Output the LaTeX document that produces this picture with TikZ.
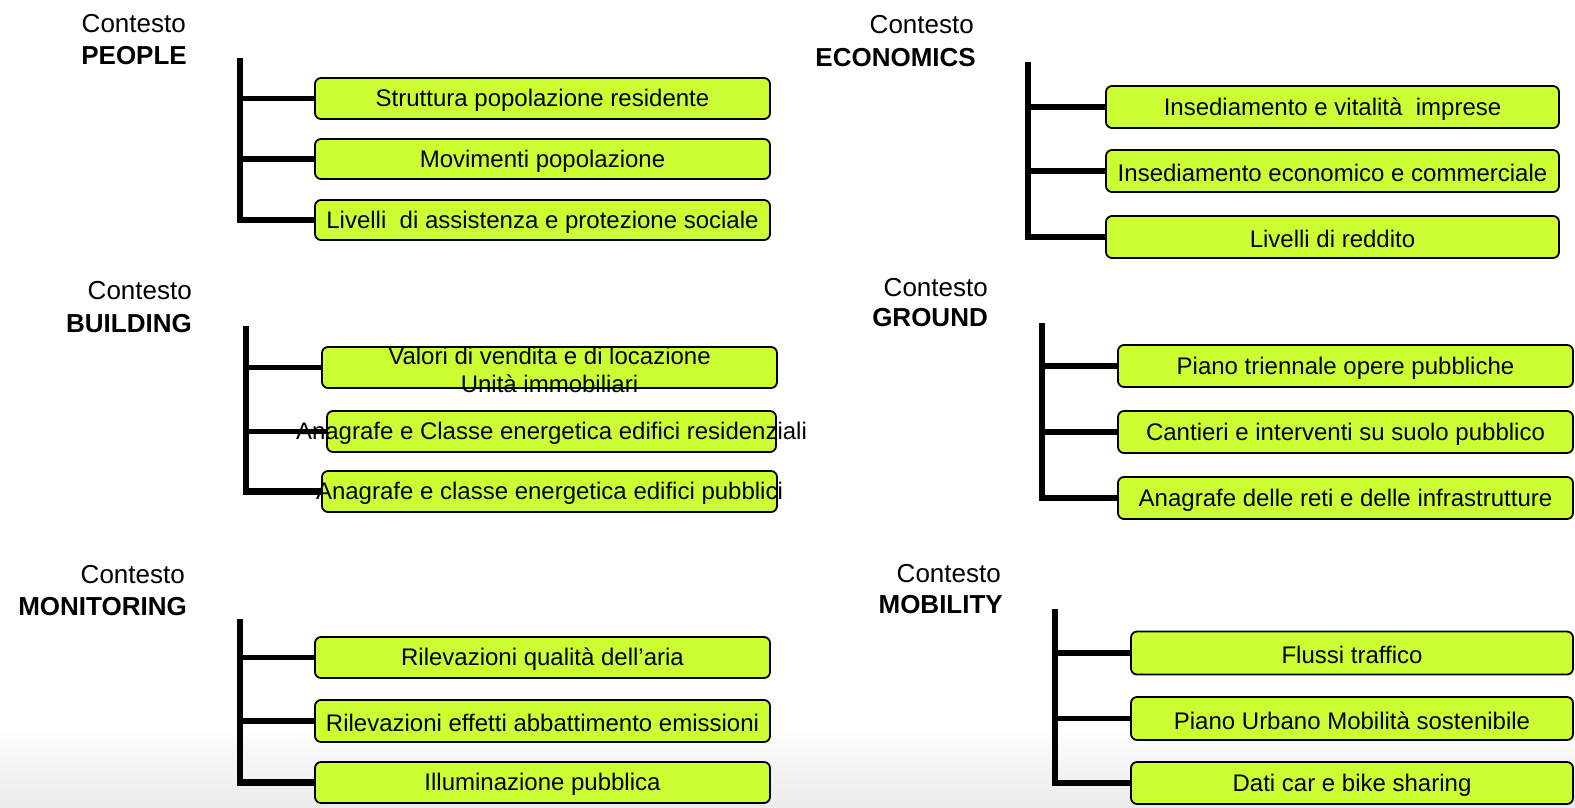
\documentclass[tikz,border=0pt]{standalone}
\usepackage{fontspec}
\setmainfont{Liberation Sans}
\definecolor{boxlime}{RGB}{204,255,51}
\begin{document}
\begin{tikzpicture}[x=1pt,y=-1pt,
  box/.style={draw=black, line width=1.8pt, rounded corners=6pt, fill=boxlime, inner sep=0pt},
  btxt/.style={inner sep=0pt, font=\fontsize{24}{28}\selectfont, align=center, yshift=-2pt},
  lbl/.style={inner sep=0pt, anchor=base east, font=\fontsize{26}{31}\selectfont},
  lblb/.style={inner sep=0pt, anchor=base east, font=\fontsize{26}{31}\selectfont\bfseries},
  bar/.style={line width=6.5pt, line join=miter},
  branch/.style={line width=5.5pt}]
\useasboundingbox (0,0) rectangle (1575,807);
\shade[top color=white, bottom color=black!8] (0,722) rectangle (1575,807);

% ---------- PEOPLE ----------
\node[lbl]  (pc) at (186,32) {Contesto};
\node[lblb] (pl) at (187,64) {PEOPLE};
\coordinate (ptop) at (240,58);
\node[box, minimum width=455pt, minimum height=41pt] (p1) at (542.5,98.5) {};
\node[box, minimum width=455pt, minimum height=40pt] (p2) at (542.5,159) {};
\node[box, minimum width=455pt, minimum height=40pt] (p3) at (542.5,220) {};
\draw[bar] (ptop) |- (p3.west);
\draw[branch] (p1.west -| ptop) -- (p1.west);
\draw[branch] (p2.west -| ptop) -- (p2.west);
\node[btxt] (p1t) at (p1.center) {Struttura popolazione residente};
\node[btxt] (p2t) at (p2.center) {Movimenti popolazione};
\node[btxt] (p3t) at (p3.center) {Livelli~ di assistenza e protezione sociale};

% ---------- ECONOMICS ----------
\node[lbl]  (ec) at (974,33) {Contesto};
\node[lblb] (el) at (976,66) {ECONOMICS};
\coordinate (etop) at (1028,62);
\node[box, minimum width=453pt, minimum height=42pt] (e1) at (1332.5,107) {};
\node[box, minimum width=453pt, minimum height=42pt] (e2) at (1332.5,171) {};
\node[box, minimum width=453pt, minimum height=42pt] (e3) at (1332.5,237) {};
\draw[bar] (etop) |- (e3.west);
\draw[branch] (e1.west -| etop) -- (e1.west);
\draw[branch] (e2.west -| etop) -- (e2.west);
\node[btxt] (e1t) at (e1.center) {Insediamento e vitalità~ imprese};
\node[btxt] (e2t) at (e2.center) {Insediamento economico e commerciale};
\node[btxt] (e3t) at (e3.center) {Livelli di reddito};

% ---------- BUILDING ----------
\node[lbl]  (bc) at (192,299) {Contesto};
\node[lblb] (bl) at (192,332) {BUILDING};
\coordinate (btop) at (246,326);
\node[box, minimum width=455pt, minimum height=41pt] (b1) at (549.5,367.5) {};
\node[box, minimum width=449pt, minimum height=41pt] (b2) at (551.5,431.5) {};
\node[box, minimum width=455pt, minimum height=41pt] (b3) at (549.5,491.5) {};
\draw[bar] (btop) |- (b3.west);
\draw[branch] (b1.west -| btop) -- (b1.west);
\draw[branch] (b2.west -| btop) -- (b2.west);
\node[btxt] (b1t) at (b1.center) {Valori di vendita e di locazione\\Unità immobiliari};
\node[btxt] (b2t) at (b2.center) {Anagrafe e Classe energetica edifici residenziali};
\node[btxt] (b3t) at (b3.center) {Anagrafe e classe energetica edifici pubblici};

% ---------- GROUND ----------
\node[lbl]  (gc) at (988,296) {Contesto};
\node[lblb] (gl) at (988,326) {GROUND};
\coordinate (gtop) at (1042,323);
\node[box, minimum width=455pt, minimum height=42pt] (g1) at (1345.5,366) {};
\node[box, minimum width=455pt, minimum height=42pt] (g2) at (1345.5,432) {};
\node[box, minimum width=455pt, minimum height=42pt] (g3) at (1345.5,498) {};
\draw[bar] (gtop) |- (g3.west);
\draw[branch] (g1.west -| gtop) -- (g1.west);
\draw[branch] (g2.west -| gtop) -- (g2.west);
\node[btxt] (g1t) at (g1.center) {Piano triennale opere pubbliche};
\node[btxt] (g2t) at (g2.center) {Cantieri e interventi su suolo pubblico};
\node[btxt] (g3t) at (g3.center) {Anagrafe delle reti e delle infrastrutture};

% ---------- MONITORING ----------
\node[lbl]  (mc) at (185,583) {Contesto};
\node[lblb] (ml) at (187,615) {MONITORING};
\coordinate (mtop) at (240,619);
\node[box, minimum width=455pt, minimum height=41pt] (m1) at (542.5,657.5) {};
\node[box, minimum width=455pt, minimum height=42pt] (m2) at (542.5,721) {};
\node[box, minimum width=455pt, minimum height=41pt] (m3) at (542.5,782.5) {};
\draw[bar] (mtop) |- (m3.west);
\draw[branch] (m1.west -| mtop) -- (m1.west);
\draw[branch] (m2.west -| mtop) -- (m2.west);
\node[btxt] (m1t) at (m1.center) {Rilevazioni qualità dell’aria};
\node[btxt] (m2t) at (m2.center) {Rilevazioni effetti abbattimento emissioni};
\node[btxt] (m3t) at (m3.center) {Illuminazione pubblica};

% ---------- MOBILITY ----------
\node[lbl]  (mbc) at (1001,582) {Contesto};
\node[lblb] (mbl) at (1003,613) {MOBILITY};
\coordinate (mbtop) at (1055,609);
\node[box, minimum width=442pt, minimum height=43pt] (mb1) at (1352,653) {};
\node[box, minimum width=442pt, minimum height=43pt] (mb2) at (1352,718.5) {};
\node[box, minimum width=442pt, minimum height=42pt] (mb3) at (1352,783) {};
\draw[bar] (mbtop) |- (mb3.west);
\draw[branch] (mb1.west -| mbtop) -- (mb1.west);
\draw[branch] (mb2.west -| mbtop) -- (mb2.west);
\node[btxt] (mb1t) at (mb1.center) {Flussi traffico};
\node[btxt] (mb2t) at (mb2.center) {Piano Urbano Mobilità sostenibile};
\node[btxt] (mb3t) at (mb3.center) {Dati car e bike sharing};
\end{tikzpicture}
\end{document}
